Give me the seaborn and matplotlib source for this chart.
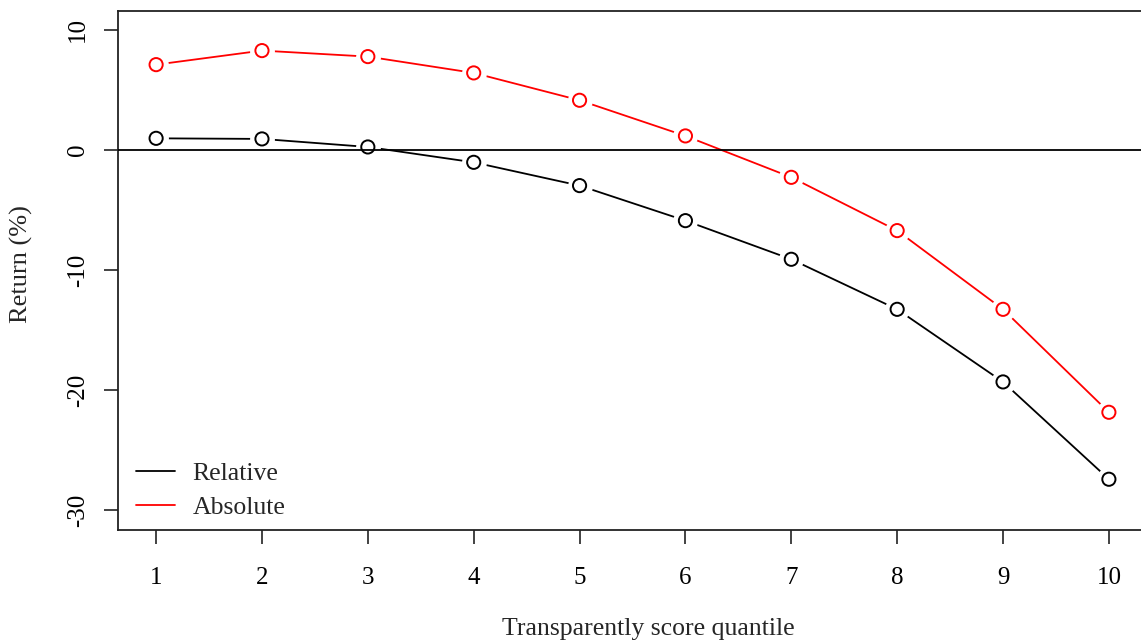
import matplotlib
matplotlib.use("Agg")
import matplotlib.pyplot as plt
import seaborn as sns
import pandas as pd
from matplotlib.lines import Line2D

quantiles = [1, 2, 3, 4, 5, 6, 7, 8, 9, 10]
relative = [0.97, 0.92, 0.25, -1.03, -2.97, -5.89, -9.11, -13.28, -19.33, -27.44]
absolute = [7.11, 8.28, 7.78, 6.42, 4.14, 1.17, -2.28, -6.72, -13.28, -21.86]
series_names = ["Relative", "Absolute"]
colors = {"Relative": "black", "Absolute": "red"}
y_ticks = [10, 0, -10, -20, -30]

df = pd.DataFrame({
    "quantile": quantiles * 2,
    "ret": relative + absolute,
    "series": ["Relative"] * len(quantiles) + ["Absolute"] * len(quantiles),
})

sns.set_theme(style="white")
plt.rcParams["font.family"] = ["Liberation Serif", "DejaVu Serif"]

W, H = 1141, 642
fig = plt.figure(figsize=(W / 100, H / 100), dpi=100)
left, right, top, bottom = 118, 1147, 11, 530
ax = fig.add_axes([left / W, (H - bottom) / H, (right - left) / W, (bottom - top) / H])

sns.lineplot(data=df, x="quantile", y="ret", hue="series", palette=colors,
             hue_order=series_names, ax=ax, linewidth=1.3, legend=False, zorder=2)
# white masks to create gaps like R type="b"
sns.scatterplot(data=df, x="quantile", y="ret", ax=ax, color="white", s=320,
                linewidth=0, legend=False, zorder=3)
ax.axhline(0, color="black", linewidth=1.3, zorder=4)
sns.scatterplot(data=df, x="quantile", y="ret", hue="series", palette=colors,
                hue_order=series_names, ax=ax, marker="o", s=90,
                linewidth=1.4, legend=False, zorder=5)
coll = ax.collections[-1]
coll.set_edgecolors(coll.get_facecolors())
coll.set_facecolors("none")

ax.set_xlim(0.64, 10.36)
ax.set_ylim(-31.67, 11.58)
ax.set_xticks(quantiles)
ax.set_xticklabels([str(q) for q in quantiles])
ax.set_yticks(y_ticks)
ax.set_yticklabels([str(t) for t in y_ticks], rotation=90, va="center")

for s in ax.spines.values():
    s.set_visible(True)
    s.set_color("#222222")
    s.set_linewidth(1.3)

ax.tick_params(axis="both", which="major", direction="out", length=10, width=1.2,
               color="#222222", labelsize=18, labelcolor="black")
ax.tick_params(axis="x", pad=17, bottom=True)
ax.tick_params(axis="y", pad=11, left=True)

ax.set_xlabel("Transparently score quantile", fontsize=18.5)
ax.set_ylabel("Return (%)", fontsize=19)
ax.xaxis.label.set_va("center")
ax.yaxis.label.set_va("center")
ax.xaxis.set_label_coords((648 - left) / (right - left), -(629 - bottom) / (bottom - top))
ax.yaxis.set_label_coords(-(left - 21) / (right - left), (bottom - 264) / (bottom - top))

handles = [Line2D([0], [0], color=colors[n], linewidth=1.3) for n in series_names]
ax.legend(handles, series_names, loc="lower left", frameon=False, fontsize=18.5,
          handlelength=1.5, handletextpad=0.7, labelspacing=0.43,
          borderpad=0.4, borderaxespad=0.5, bbox_to_anchor=(-0.005, -0.024))

fig.savefig("out.png", dpi=100)
